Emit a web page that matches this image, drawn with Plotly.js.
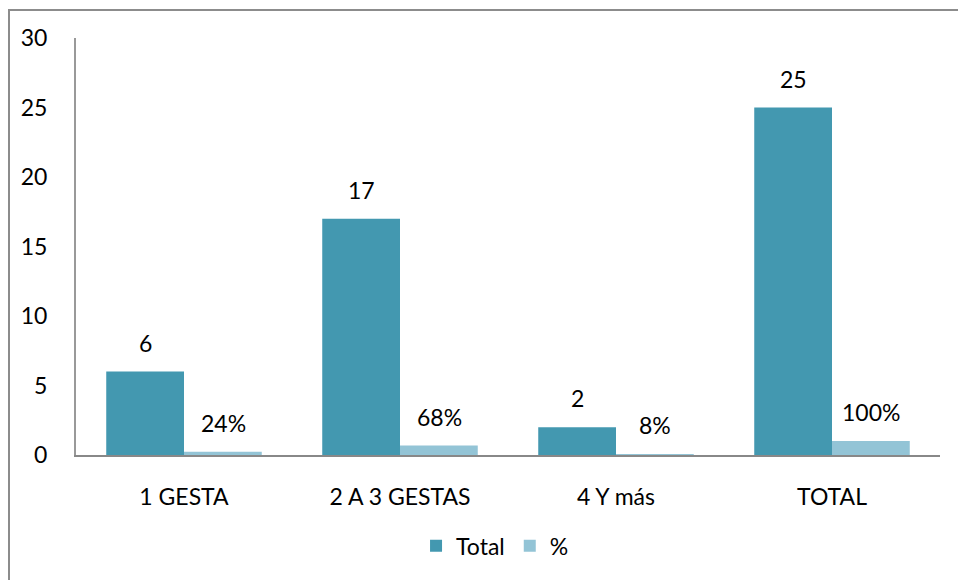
<!DOCTYPE html>
<html>
<head>
<meta charset="utf-8">
<script src="https://cdn.plot.ly/plotly-3.0.1.min.js"></script>
<style>
html,body{margin:0;padding:0;background:#fff;}
#wrap{position:relative;width:958px;height:580px;overflow:hidden;}
#chart{position:absolute;left:0;top:0;width:958px;height:580px;}
#frame{position:absolute;left:8px;top:9px;width:1000px;height:700px;border-top:2px solid #8c8c8c;border-left:2px solid #8c8c8c;pointer-events:none;}
</style>
</head>
<body>
<div id="wrap"><div id="chart"></div><div id="frame"></div></div>
<script>
var categories = ["1 GESTA", "2 A 3 GESTAS", "4 Y más", "TOTAL"];
var totalValues = [6, 17, 2, 25];
var pctValues = [0.24, 0.68, 0.08, 1.00];
var pctLabels = ["24%", "68%", "8%", "100%"];
var seriesNames = ["Total", "%"];

var font = "Lato, 'Open Sans', sans-serif";
var fs = 23;
var traces = [
  {type: "bar", name: seriesNames[0], x: categories, y: totalValues, marker: {color: "#4398B0"}, hoverinfo: "y"},
  {type: "bar", name: seriesNames[1], x: categories, y: pctValues, marker: {color: "#93C4D6"}, hoverinfo: "y"}
];

var annotations = [];
categories.forEach(function(c, i){
  annotations.push({x: c, y: totalValues[i], xref: "x", yref: "y", text: String(totalValues[i]), showarrow: false, xshift: -39, yshift: 13, yanchor: "bottom", font: {family: font, size: fs, color: "#000"}});
  annotations.push({x: c, y: pctValues[i], xref: "x", yref: "y", text: pctLabels[i], showarrow: false, xshift: 39, yshift: 13, yanchor: "bottom", font: {family: font, size: fs, color: "#000"}});
});

var layout = {
  width: 958, height: 580,
  margin: {l: 76, r: 18, t: 38, b: 125},
  paper_bgcolor: "#fff", plot_bgcolor: "#fff",
  font: {family: font, size: fs, color: "#000"},
  barmode: "group", bargap: 0.28, bargroupgap: 0,
  showlegend: true,
  legend: {orientation: "h", x: 0.485, xanchor: "center", y: -0.218, yanchor: "middle", font: {family: font, size: fs}, itemwidth: 30, traceorder: "normal"},
  xaxis: {type: "category", showline: true, linecolor: "#888", linewidth: 2, ticks: "", showgrid: false, zeroline: false, ticklabelstandoff: 20, tickfont: {family: font, size: fs}},
  yaxis: {range: [0, 30], dtick: 5, showline: true, linecolor: "#999", linewidth: 2, ticks: "", showgrid: false, zeroline: false, ticklabelstandoff: 22, tickfont: {family: font, size: fs}},
  annotations: annotations
};
Plotly.newPlot("chart", traces, layout, {displayModeBar: false, staticPlot: true});
</script>
</body>
</html>
